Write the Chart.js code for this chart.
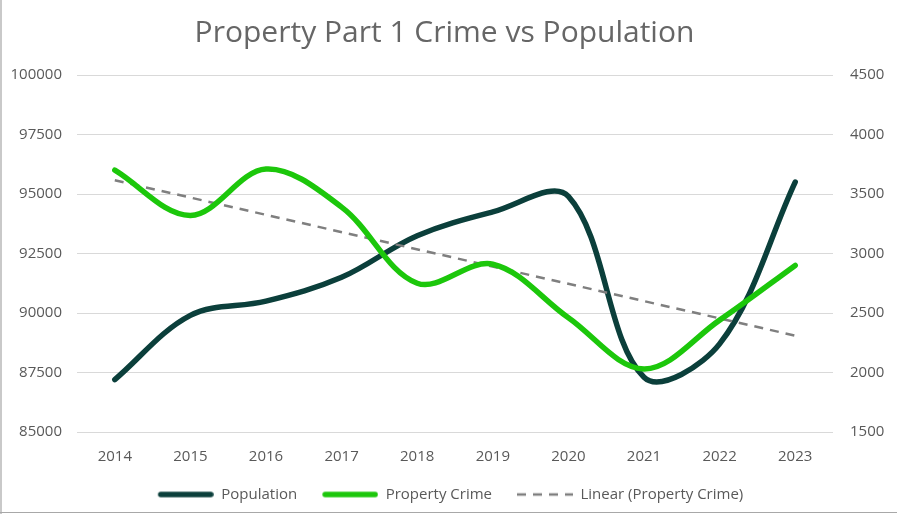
<!DOCTYPE html>
<html>
<head>
<meta charset="utf-8">
<script src="https://cdn.jsdelivr.net/npm/chart.js@4/dist/chart.umd.min.js"></script>
<style>
  html, body { margin: 0; padding: 0; background: #fff; }
  #wrap { position: relative; width: 897px; height: 514px; }
  #wrap canvas { display: block; }
  .edgeL { position: absolute; left: 0; top: 0; width: 2px; height: 514px; background: #c9c9c9; }
  .edgeB { position: absolute; left: 0; bottom: 1px; width: 897px; height: 1px; background: #a8a8a8; }
</style>
</head>
<body>
<div id="wrap">
  <canvas id="chart" width="897" height="514"></canvas>
  <div class="edgeL"></div>
  <div class="edgeB"></div>
</div>
<script>
const years = ['2014', '2015', '2016', '2017', '2018', '2019', '2020', '2021', '2022', '2023'];
const population = [87200, 89900, 90500, 91500, 93250, 94250, 94900, 87300, 88700, 95500];
const propertyCrime = [3700, 3320, 3710, 3390, 2750, 2910, 2460, 2030, 2440, 2900];
// trendline: start and end only
const linearTrend = [3615, null, null, null, null, null, null, null, null, 2310];

const popTicks = { min: 85000, max: 100000, step: 2500 };
const crimeTicks = { min: 1500, max: 4500, step: 500 };

const fontFamily = "'Open Sans', 'Noto Sans', sans-serif";
const textGrey = '#595959';

// legend samples drawn on small canvases; the blank on the left is the gap between items
const sampleGap = 12;
const sampleLen = 56;
function legendSample(color, width, dash) {
  const c = document.createElement('canvas');
  c.width = sampleGap + sampleLen;
  c.height = 8;
  const g = c.getContext('2d');
  g.strokeStyle = color;
  g.lineWidth = width;
  g.lineCap = dash ? 'butt' : 'round';
  g.setLineDash(dash || []);
  g.beginPath();
  g.moveTo(sampleGap + (dash ? 0 : 3), 4);
  g.lineTo(sampleGap + sampleLen - (dash ? 0 : 3), 4);
  g.stroke();
  return c;
}

const ctx = document.getElementById('chart').getContext('2d');
const chart = new Chart(ctx, {
  type: 'line',
  data: {
    labels: years,
    datasets: [
      {
        label: 'Population',
        data: population,
        yAxisID: 'y',
        borderColor: '#0b3f3b',
        backgroundColor: '#0b3f3b',
        borderWidth: 5.5,
        borderCapStyle: 'round',
        borderJoinStyle: 'round',
        pointRadius: 0,
        tension: 0.35,
        order: 2
      },
      {
        label: 'Property Crime',
        data: propertyCrime,
        yAxisID: 'y1',
        borderColor: '#1cc70b',
        backgroundColor: '#1cc70b',
        borderWidth: 5.5,
        borderCapStyle: 'round',
        borderJoinStyle: 'round',
        pointRadius: 0,
        tension: 0.35,
        order: 0
      },
      {
        label: 'Linear (Property Crime)',
        data: linearTrend,
        yAxisID: 'y1',
        borderColor: '#7f7f7f',
        backgroundColor: '#7f7f7f',
        borderWidth: 2.5,
        borderDash: [9, 7],
        pointRadius: 0,
        spanGaps: true,
        tension: 0,
        order: 1
      }
    ]
  },
  options: {
    responsive: false,
    animation: false,
    devicePixelRatio: 1,
    layout: { padding: { left: 0, right: 8, top: 0, bottom: 2 } },
    plugins: {
      title: {
        display: true,
        text: 'Property Part 1 Crime vs Population',
        color: '#666666',
        font: { family: fontFamily, size: 30, weight: 'normal' },
        padding: { top: 15, bottom: 24 }
      },
      legend: {
        position: 'bottom',
        labels: {
          usePointStyle: true,
          pointStyleWidth: sampleGap + sampleLen,
          color: textGrey,
          font: { family: fontFamily, size: 15 },
          padding: 13,
          sort: (a, b) => a.datasetIndex - b.datasetIndex,
          generateLabels: chart => {
            const items = Chart.defaults.plugins.legend.labels.generateLabels(chart);
            items.forEach(item => {
              const ds = chart.data.datasets[item.datasetIndex];
              item.pointStyle = legendSample(ds.borderColor, ds.borderWidth, ds.borderDash);
            });
            return items;
          }
        }
      },
      tooltip: { enabled: false }
    },
    scales: {
      x: {
        offset: true,
        grid: { display: false },
        border: { display: false },
        ticks: { color: textGrey, font: { family: fontFamily, size: 15 }, padding: 8 }
      },
      y: {
        position: 'left',
        min: popTicks.min,
        max: popTicks.max,
        grid: { color: '#d9d9d9', lineWidth: 1, drawTicks: false },
        border: { display: false },
        ticks: {
          stepSize: popTicks.step, color: textGrey, font: { family: fontFamily, size: 15 }, padding: 15,
          callback: v => String(v)
        },
        afterFit: s => { s.width = 77; }
      },
      y1: {
        position: 'right',
        min: crimeTicks.min,
        max: crimeTicks.max,
        grid: { display: false, drawTicks: false },
        border: { display: false },
        ticks: {
          stepSize: crimeTicks.step, color: textGrey, font: { family: fontFamily, size: 15 }, padding: 17,
          callback: v => String(v)
        },
        afterFit: s => { s.width = 56; }
      }
    }
  }
});
</script>
</body>
</html>
